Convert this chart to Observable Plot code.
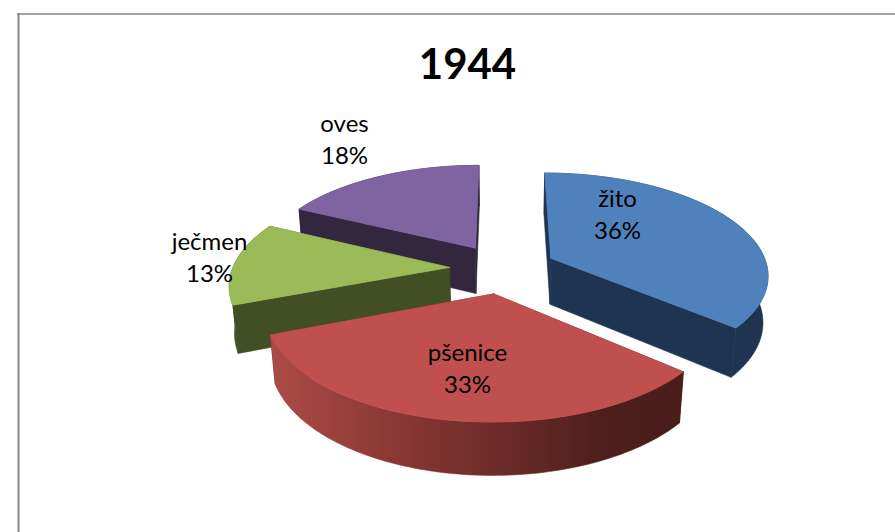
<!DOCTYPE html>
<html>
<head>
<meta charset="utf-8">
<script src="https://cdn.jsdelivr.net/npm/d3@7"></script>
<script src="https://cdn.jsdelivr.net/npm/@observablehq/plot@0.6"></script>
<style>html,body{margin:0;padding:0;background:#fff;overflow:hidden}svg{display:block}</style>
</head>
<body>
<div id="chart"></div>
<script>
const title = "1944";
const categories = ["žito", "pšenice", "ječmen", "oves"];
const shares = [36.2, 33, 13, 17.8];
const topColors = ["#4F81BD", "#C0504D", "#9BBB59", "#8064A2"];
const sideColors = ["#1E3450", "url(#redRim)", "#424E24", "#33263F"];
const cutColors = ["#1E3450", "#4A1D1A", "#424E24", "#33263F"];
const labelXY = [[617, 212], [467, 366], [209, 255], [344, 137]];
const drawOrder = [3, 0, 2, 1];

const W = 895, H = 532;
const cam = {cx: 502.5, cy: 268, R: 217, explode: 53.5, sin: 0.464, cos: 0.886, D: 1290, depth: 53.5};

function project(X, F, Z) {
  const s = 1 / (1 - (F * cam.cos + Z * cam.sin) / cam.D);
  return {x: cam.cx + X * s, y: cam.cy + (F * cam.sin - Z * cam.cos) * s};
}

const arcs = d3.pie().sort(null).value(d => d)(shares);
const sliceMarks = [];
for (const i of drawOrder) {
  const a = arcs[i], mid = (a.startAngle + a.endAngle) / 2;
  const ox = Math.sin(mid) * cam.explode, oF = -Math.cos(mid) * cam.explode;
  const n = Math.ceil((a.endAngle - a.startAngle) * 60);
  const angles = d3.range(n + 1).map(k => a.startAngle + (a.endAngle - a.startAngle) * k / n);
  const rim = Z => angles.map(t => project(ox + cam.R * Math.sin(t), oF - cam.R * Math.cos(t), Z));
  const apex = Z => project(ox, oF, Z);
  const top = rim(0), bottom = rim(-cam.depth);
  const side = (pts, fill) => Plot.line(pts, {x: "x", y: "y", fill, stroke: fill, strokeWidth: 0.6});
  sliceMarks.push(
    side([apex(0), top[0], bottom[0], apex(-cam.depth), apex(0)], cutColors[i]),
    side([apex(0), top[n], bottom[n], apex(-cam.depth), apex(0)], cutColors[i]),
    side([...top, ...bottom.slice().reverse(), top[0]], sideColors[i]),
    Plot.line([apex(0), ...top, apex(0)], {x: "x", y: "y", fill: topColors[i], stroke: topColors[i], strokeWidth: 0.8})
  );
}

const labels = categories.map((c, i) => ({text: `${c}\n${Math.round(shares[i])}%`, x: labelXY[i][0], y: labelXY[i][1]}));

const defs = () => {
  const d = d3.create("svg:defs");
  const g = d.append("linearGradient").attr("id", "redRim")
    .attr("gradientUnits", "userSpaceOnUse")
    .attr("x1", 272).attr("x2", 683).attr("y1", 0).attr("y2", 0);
  [[0, "#AB4A47"], [0.35, "#843532"], [0.8, "#4E1F1C"], [1, "#4A1D1A"]]
    .forEach(([o, c]) => g.append("stop").attr("offset", o).attr("stop-color", c));
  return d.node();
};

const chart = Plot.plot({
  width: W, height: H,
  margin: 0,
  x: {domain: [0, W], range: [0, W], axis: null},
  y: {domain: [0, H], range: [0, H], axis: null},
  style: {background: "#fff", fontFamily: "Lato, sans-serif"},
  marks: [
    defs,
    Plot.ruleX([18], {y1: 13, y2: H, stroke: "#868686", strokeWidth: 2}),
    Plot.ruleY([13.5], {x1: 17, x2: W, stroke: "#868686", strokeWidth: 1.5}),
    ...sliceMarks,
    Plot.text(labels, {x: "x", y: "y", text: "text", fontSize: 24, lineHeight: 1.33, fill: "#000", lineAnchor: "middle", textAnchor: "middle"}),
    Plot.text([title], {x: () => 467, y: () => 65.5, text: d => d, fontSize: 42, fontWeight: 700, fill: "#000"})
  ]
});
document.getElementById("chart").append(chart);
</script>
</body>
</html>
